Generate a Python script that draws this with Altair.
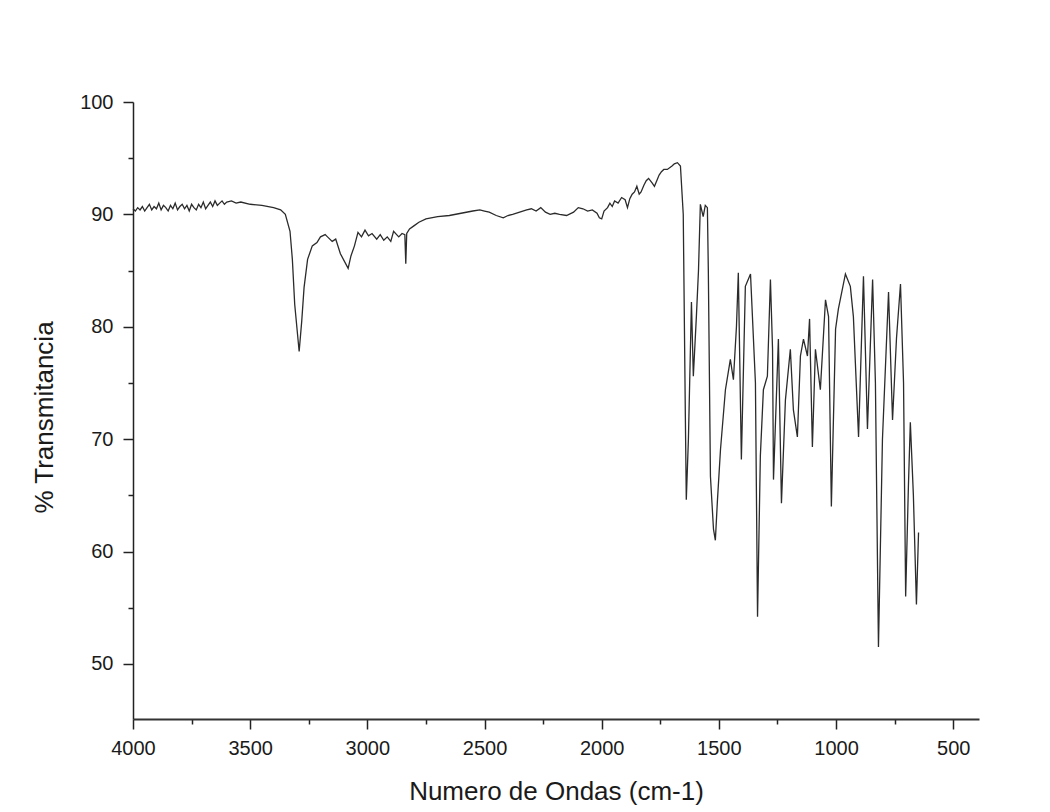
import altair as alt
import pandas as pd

# IR spectrum
wavenumber = [
    4000, 3990, 3980, 3970, 3960, 3950, 3940, 3930, 3920, 3910, 3900, 3890, 3880, 3870,
    3860, 3850, 3840, 3830, 3820, 3810, 3800, 3790, 3780, 3770, 3760, 3750, 3740, 3730,
    3720, 3710, 3700, 3690, 3680, 3670, 3660, 3650, 3640, 3630, 3620, 3610, 3600, 3580,
    3560, 3540, 3500, 3450, 3400, 3370,
    3350, 3330, 3320, 3310, 3291, 3280, 3270, 3255, 3235, 3215, 3200, 3180, 3170, 3150,
    3135, 3115, 3082, 3070, 3055, 3040, 3025, 3010, 2995, 2980, 2960, 2945, 2930, 2915,
    2900, 2888, 2875, 2866, 2852, 2840, 2836, 2832, 2820, 2800, 2780, 2750, 2700, 2650,
    2600, 2550, 2520, 2500, 2480, 2450, 2420, 2400, 2380, 2350, 2320, 2300, 2280, 2260,
    2240, 2220, 2200, 2180, 2150, 2120, 2100, 2080, 2060, 2040, 2020, 2010, 2000, 1990,
    1975, 1965, 1955, 1945, 1930, 1915, 1900, 1890, 1880, 1870, 1860, 1850, 1840, 1832,
    1820, 1810, 1800, 1785, 1775, 1765, 1755, 1745, 1735, 1720, 1700, 1690, 1677, 1664,
    1652, 1643, 1639, 1630, 1617, 1609, 1596, 1587, 1579, 1567, 1558, 1549, 1545, 1536,
    1523, 1515, 1506, 1493, 1472, 1451, 1438, 1425, 1417, 1404, 1387, 1365, 1344, 1335,
    1323, 1310, 1293, 1280, 1271, 1267, 1246, 1233, 1216, 1195, 1182, 1165, 1152, 1139,
    1122, 1113, 1101, 1088, 1067, 1045, 1032, 1020, 1002, 990, 960, 939, 926, 904,
    883, 866, 844, 832, 819, 802, 776, 759, 742, 725, 712, 703, 691, 683, 670, 657, 648,
]
transmitancia = [
    90.5, 90.3, 90.6, 90.4, 90.7, 90.3, 90.6, 90.9, 90.4, 90.7, 90.5, 91.0, 90.4, 90.8,
    90.6, 90.3, 90.8, 90.5, 91.0, 90.4, 90.7, 90.9, 90.5, 90.8, 90.3, 90.9, 90.6, 90.4,
    90.9, 90.6, 91.1, 90.5, 90.8, 91.1, 90.7, 91.2, 90.8, 91.0, 91.2, 90.9, 91.1, 91.2,
    91.0, 91.1, 90.9, 90.8, 90.6, 90.4,
    90.0, 88.5, 86.0, 82.0, 77.8, 80.5, 83.5, 86.0, 87.2, 87.5, 88.0, 88.2, 88.0, 87.6,
    87.8, 86.5, 85.2, 86.3, 87.2, 88.4, 88.0, 88.6, 88.1, 88.3, 87.8, 88.2, 87.7, 88.0,
    87.6, 88.5, 88.2, 88.0, 88.3, 88.2, 85.6, 88.3, 88.7, 89.0, 89.3, 89.6, 89.8, 89.9,
    90.1, 90.3, 90.4, 90.3, 90.2, 89.9, 89.7, 89.9, 90.0, 90.2, 90.4, 90.5, 90.3, 90.6,
    90.2, 90.0, 90.1, 90.0, 89.9, 90.2, 90.6, 90.5, 90.3, 90.4, 90.1, 89.7, 89.6, 90.3,
    90.6, 91.0, 90.7, 91.2, 91.0, 91.5, 91.3, 90.6, 91.4, 91.8, 92.0, 92.5, 91.8, 92.0,
    92.6, 93.0, 93.2, 92.8, 92.5, 93.0, 93.5, 93.8, 94.0, 94.0, 94.3, 94.5, 94.6, 94.3,
    90.0, 72.0, 64.6, 70.0, 82.2, 75.6, 80.9, 85.0, 90.9, 89.8, 90.8, 90.6, 85.0, 66.7,
    62.0, 61.0, 64.6, 69.1, 74.4, 77.1, 75.3, 80.0, 84.8, 68.2, 83.6, 84.7, 75.0, 54.2,
    68.5, 74.4, 75.6, 84.2, 78.0, 66.4, 78.9, 64.3, 73.5, 78.0, 72.6, 70.2, 77.4, 78.9,
    77.4, 80.7, 69.3, 78.0, 74.4, 82.4, 80.9, 64.0, 79.8, 81.6, 84.7, 83.6, 80.9, 70.2,
    84.5, 70.9, 84.2, 75.0, 51.5, 70.0, 83.1, 71.7, 79.0, 83.8, 75.0, 56.0, 66.0, 71.5, 65.0, 55.3, 61.7,
]

x_ticks = [4000, 3750, 3500, 3250, 3000, 2750, 2500, 2250, 2000, 1750, 1500, 1250, 1000, 750, 500]
y_ticks = [50, 55, 60, 65, 70, 75, 80, 85, 90, 95, 100]

df = pd.DataFrame({"wn": wavenumber, "t": transmitancia})

FONT = "Liberation Sans"
TXT = "#1a1a1a"

x_axis = alt.Axis(
    title="Numero de Ondas (cm-1)",
    values=x_ticks,
    format="d",
    labelExpr="datum.value % 500 === 0 ? datum.label : ''",
    grid=False,
    domainColor="#333333",
    domainWidth=2,
    tickColor="#222222",
    tickWidth=1.5,
    tickSize={"condition": {"test": "datum.value % 500 === 0", "value": 10}, "value": 5},
    labelFont=FONT,
    labelFontSize=20,
    labelColor=TXT,
    labelPadding=9,
    labelFlush=False,
    titleFont=FONT,
    titleFontSize=26,
    titleFontWeight="normal",
    titleColor=TXT,
    titleBaseline="alphabetic",
    titleY=80,
)

y_axis = alt.Axis(
    title="% Transmitancia",
    values=y_ticks,
    labelExpr="datum.value % 10 === 0 ? datum.label : ''",
    grid=False,
    domainColor="#222222",
    domainWidth=1.5,
    tickColor="#222222",
    tickWidth=1.5,
    tickSize={"condition": {"test": "datum.value % 10 === 0", "value": 10}, "value": 5},
    labelFont=FONT,
    labelFontSize=20,
    labelColor=TXT,
    labelPadding=10,
    labelFlush=False,
    titleFont=FONT,
    titleFontSize=26,
    titleFontWeight="normal",
    titleColor=TXT,
    titleAngle=-90,
    titleBaseline="alphabetic",
    titleX=-81,
    titleY=315,
)

chart = (
    alt.Chart(df)
    .mark_line(color="#2b2b2b", strokeWidth=1.3)
    .encode(
        x=alt.X("wn:Q", scale=alt.Scale(domain=[390, 4000], reverse=True, nice=False, zero=False), axis=x_axis),
        y=alt.Y("t:Q", scale=alt.Scale(domain=[45.1, 100], nice=False, zero=False), axis=y_axis),
    )
    .properties(
        width=846,
        height=617,
        autosize=alt.AutoSizeParams(type="none"),
        padding={"left": 133, "top": 102, "right": 71, "bottom": 93},
        background="white",
    )
    .configure_view(stroke=None)
)

chart.save("out.html", embed_options={"renderer": "svg", "actions": False})
